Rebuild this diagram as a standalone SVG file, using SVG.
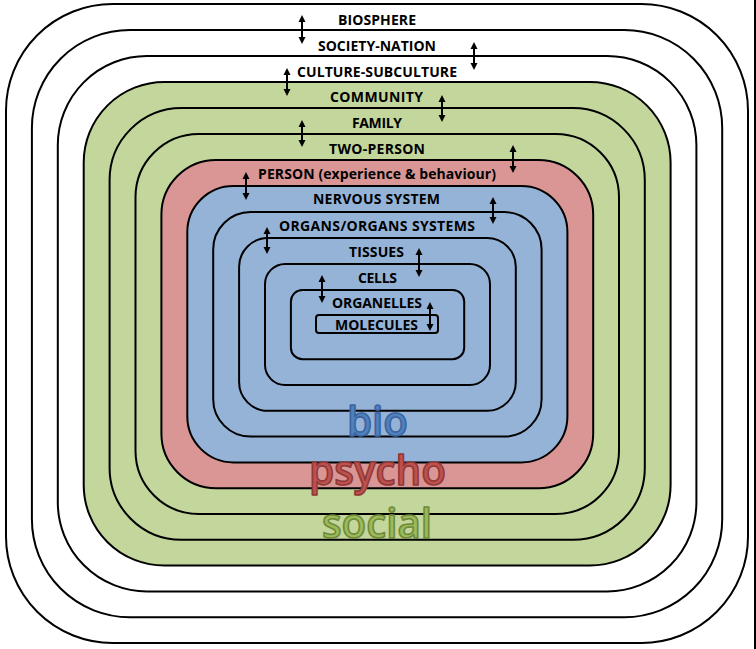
<svg xmlns="http://www.w3.org/2000/svg" width="756" height="649" viewBox="0 0 756 649">
<defs>
<style>
.lyr{stroke:#000;stroke-width:2}
.w{fill:#fff}
.g{fill:#C3D69B}
.r{fill:#D99694}
.b{fill:#95B3D7}
.lbl{font-family:"Open Sans","Liberation Sans",sans-serif;font-weight:700;font-size:14px;fill:#000;text-anchor:middle}
.big{font-family:"Open Sans","Liberation Sans",sans-serif;font-weight:600;font-size:41px;text-anchor:middle;stroke-width:1.6;stroke-linejoin:round}
.arr{stroke:#000;stroke-width:2;fill:none;marker-start:url(#ah);marker-end:url(#ah)}
</style>
<marker id="ah" markerUnits="userSpaceOnUse" markerWidth="7" markerHeight="8" refX="0" refY="3.5" orient="auto-start-reverse" overflow="visible">
<path d="M0,0 L7,3.5 L0,7 z" fill="#000"/>
</marker>
</defs>
<rect x="0" y="0" width="756" height="649" fill="#fff"/>
<rect x="754" y="0" width="2" height="649" fill="#000"/>

<g id="biosphere"><rect class="lyr w" x="6" y="4" width="742" height="639" rx="106.5"/><text class="lbl" x="377" y="25" textLength="78">BIOSPHERE</text></g>
<g id="society-nation"><rect class="lyr w" x="31.9" y="30" width="690.3" height="587.2" rx="97.9"/><text class="lbl" x="377" y="50.5" textLength="118">SOCIETY-NATION</text></g>
<g id="culture-subculture"><rect class="lyr w" x="57.8" y="56" width="638.6" height="535.4" rx="89.2"/><text class="lbl" x="377" y="76.5" textLength="160">CULTURE-SUBCULTURE</text></g>
<g id="community"><rect class="lyr g" x="83.7" y="82" width="586.9" height="483.6" rx="80.6"/><text class="lbl" x="376.5" y="101.5" textLength="93">COMMUNITY</text></g>
<g id="family"><rect class="lyr g" x="109.6" y="108" width="535.2" height="431.8" rx="72"/><text class="lbl" x="377" y="127.5" textLength="50">FAMILY</text></g>
<g id="two-person"><rect class="lyr g" x="135.5" y="134" width="483.5" height="380" rx="63.3"/><text class="lbl" x="377" y="153.5" textLength="96">TWO-PERSON</text></g>
<g id="person"><rect class="lyr r" x="161.4" y="160" width="431.8" height="328.2" rx="54.7"/><text class="lbl" x="377" y="178.5" textLength="238">PERSON (experience &amp; behaviour)</text></g>
<g id="nervous-system"><rect class="lyr b" x="187.3" y="186" width="380.1" height="276.4" rx="46.1"/><text class="lbl" x="376.5" y="204" textLength="127">NERVOUS SYSTEM</text></g>
<g id="organs"><rect class="lyr b" x="213.2" y="212" width="328.4" height="224.6" rx="37.4"/><text class="lbl" x="377" y="230.5" textLength="196">ORGANS/ORGANS SYSTEMS</text></g>
<g id="tissues"><rect class="lyr b" x="239.1" y="238" width="276.7" height="172.8" rx="28.8"/><text class="lbl" x="376.5" y="256.5" textLength="55">TISSUES</text></g>
<g id="cells"><rect class="lyr b" x="265" y="264" width="225" height="121" rx="20.2"/><text class="lbl" x="377.5" y="282.5" textLength="39">CELLS</text></g>
<g id="organelles"><rect class="lyr b" x="290.9" y="290" width="173.3" height="69.2" rx="11.5"/><text class="lbl" x="377" y="308" textLength="90">ORGANELLES</text></g>
<g id="molecules"><rect class="lyr b" x="316" y="315" width="122" height="18" rx="3"/><text class="lbl" x="376.5" y="330" textLength="83">MOLECULES</text></g>

<g id="bps-labels">
<text class="big" x="377.5" y="436" fill="#4F81BD" stroke="#3A64A0" textLength="61" lengthAdjust="spacingAndGlyphs">bio</text>
<text class="big" x="377.5" y="485" fill="#C0504D" stroke="#8E3A38" textLength="137" lengthAdjust="spacingAndGlyphs">psycho</text>
<text class="big" x="377" y="538" fill="#9BBB59" stroke="#6F8A3C" textLength="110" lengthAdjust="spacingAndGlyphs">social</text>
</g>

<g id="connectors">
<line class="arr" x1="302" y1="22" x2="302" y2="37"/>
<line class="arr" x1="474" y1="49" x2="474" y2="63"/>
<line class="arr" x1="287" y1="75" x2="287" y2="89"/>
<line class="arr" x1="442" y1="102" x2="442" y2="115"/>
<line class="arr" x1="302" y1="127" x2="302" y2="140"/>
<line class="arr" x1="513" y1="152" x2="513" y2="166"/>
<line class="arr" x1="246" y1="179" x2="246" y2="193"/>
<line class="arr" x1="493" y1="204" x2="493" y2="217"/>
<line class="arr" x1="267" y1="234" x2="267" y2="247"/>
<line class="arr" x1="419" y1="255" x2="419" y2="270"/>
<line class="arr" x1="322" y1="282" x2="322" y2="296"/>
<line class="arr" x1="430" y1="309" x2="430" y2="324"/>
</g>
</svg>
